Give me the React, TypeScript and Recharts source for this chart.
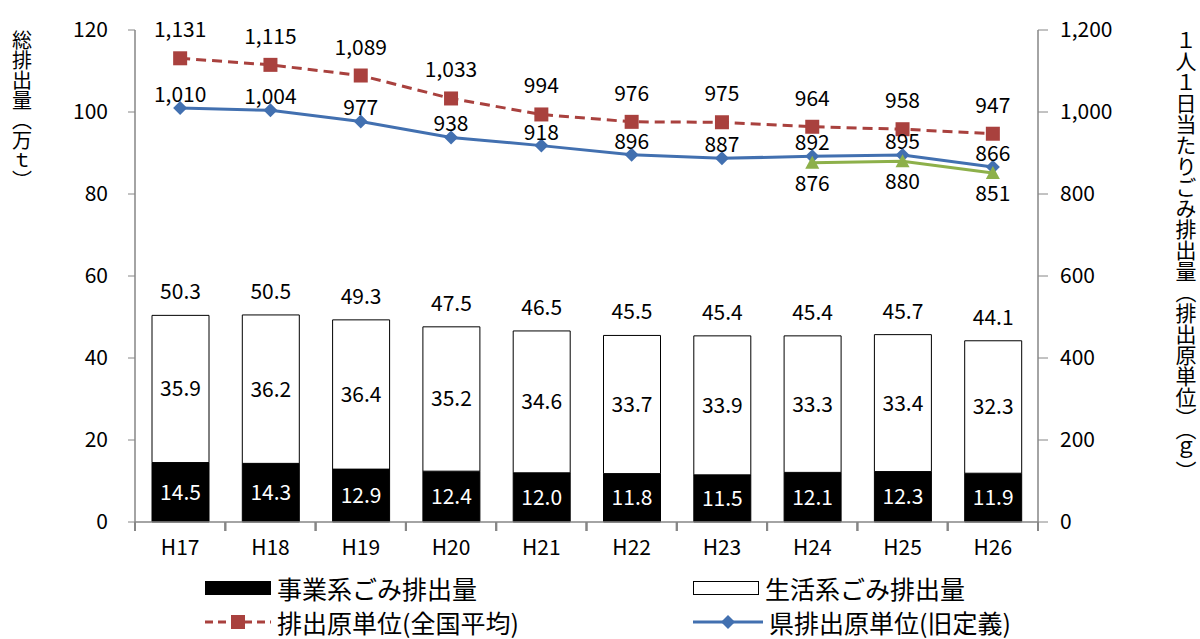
import React from 'react';
import {
  ComposedChart, Bar, Line, XAxis, YAxis, LabelList, Legend,
} from 'recharts';

const categories = ['H17', 'H18', 'H19', 'H20', 'H21', 'H22', 'H23', 'H24', 'H25', 'H26'];
const businessWaste = [14.5, 14.3, 12.9, 12.4, 12.0, 11.8, 11.5, 12.1, 12.3, 11.9];
const householdWaste = [35.9, 36.2, 36.4, 35.2, 34.6, 33.7, 33.9, 33.3, 33.4, 32.3];
const totalWaste = [50.3, 50.5, 49.3, 47.5, 46.5, 45.5, 45.4, 45.4, 45.7, 44.1];
const nationalUnit = [1131, 1115, 1089, 1033, 994, 976, 975, 964, 958, 947];
const prefUnitOld = [1010, 1004, 977, 938, 918, 896, 887, 892, 895, 866];
const prefUnitNew = [null, null, null, null, null, null, null, 876, 880, 851];
const leftTicks = [0, 20, 40, 60, 80, 100, 120];
const rightTicks = [0, 200, 400, 600, 800, 1000, 1200];

const data = categories.map((name, i) => ({
  name,
  business: businessWaste[i],
  household: householdWaste[i],
  total: totalWaste[i],
  national: nationalUnit[i],
  prefOld: prefUnitOld[i],
  prefNew: prefUnitNew[i],
}));

const FONT = "'Noto Sans CJK JP', 'Noto Sans', sans-serif";
const AXIS = '#868686';
const RED = '#A9413E';
const BLUE = '#4270B0';
const GREEN = '#8DB04A';

const W = 1200;
const H = 639;
const LEFT_W = 135;
const RIGHT_W = 162;
const TICK_GAP = 14;
const HALF_BAND = (W - LEFT_W - RIGHT_W) / categories.length / 2;

const fmt1 = (v: any) => (v == null ? '' : Number(v).toFixed(1));
const fmtInt = (v: any) => (v == null ? '' : Number(v).toLocaleString('en-US'));

const Square = (p: any) => {
  if (p.cx == null || p.cy == null || p.value == null) return <g key={p.key} />;
  return <rect key={p.key} x={p.cx - 7} y={p.cy - 7} width={14} height={14} fill={RED} />;
};
const Diamond = (p: any) => {
  if (p.cx == null || p.cy == null || p.value == null) return <g key={p.key} />;
  const { cx, cy } = p;
  return <path key={p.key} d={`M${cx},${cy - 7}L${cx + 7},${cy}L${cx},${cy + 7}L${cx - 7},${cy}Z`} fill={BLUE} />;
};
const Triangle = (p: any) => {
  if (p.cx == null || p.cy == null || p.value == null) return <g key={p.key} />;
  const { cx, cy } = p;
  return <path key={p.key} d={`M${cx},${cy - 7}L${cx + 7},${cy + 6}L${cx - 7},${cy + 6}Z`} fill={GREEN} />;
};

// category ticks sit between bars, labels centred under them
const CategoryTick = (p: any) => {
  const x = Number(p.x);
  const y = Number(p.y);
  const axisY = y - TICK_GAP;
  const left = x - HALF_BAND;
  const right = x + HALF_BAND;
  return (
    <g>
      <rect x={left - 1} y={axisY} width={2} height={9} fill={AXIS} />
      <rect x={right - 1} y={axisY} width={2} height={9} fill={AXIS} />
      <text x={x} y={y + 4} dy="0.71em" textAnchor="middle" fill="#000" fontSize={21} fontFamily={FONT}>
        {p.payload.value}
      </text>
    </g>
  );
};

const VerticalTitle = ({ x, y, text, size }: { x: number; y: number; text: string; size: number }) => (
  <text
    x={x}
    y={y}
    fill="#000"
    fontSize={size}
    fontFamily={FONT}
    style={{ writingMode: 'vertical-rl', textOrientation: 'upright' } as any}
  >
    {text}
  </text>
);

const legendItems = [
  { label: '事業系ごみ排出量', left: 205, top: 36, kind: 'black' },
  { label: '生活系ごみ排出量', left: 693, top: 36, kind: 'white' },
  { label: '排出原単位(全国平均)', left: 205, top: 70, kind: 'red' },
  { label: '県排出原単位(旧定義)', left: 693, top: 70, kind: 'blue' },
];

function LegendIcon({ kind }: { kind: string }) {
  if (kind === 'black') return <svg width={66} height={20}><rect x={0} y={3} width={66} height={14} fill="#000" /></svg>;
  if (kind === 'white') return <svg width={66} height={20}><rect x={0.5} y={3.5} width={65} height={13} fill="#fff" stroke="#000" /></svg>;
  if (kind === 'red') {
    return (
      <svg width={66} height={20}>
        <line x1={0} y1={10} x2={66} y2={10} stroke={RED} strokeWidth={3} strokeDasharray="8 5" />
        <rect x={26} y={3} width={14} height={14} fill={RED} />
      </svg>
    );
  }
  return (
    <svg width={70} height={20}>
      <line x1={0} y1={10} x2={70} y2={10} stroke={BLUE} strokeWidth={3} />
      <path d="M35,3L42,10L35,17L28,10Z" fill={BLUE} />
    </svg>
  );
}

const renderLegend = () => (
  <div style={{ position: 'relative', width: W, height: 80, fontFamily: FONT }}>
    {legendItems.map((it) => (
      <div
        key={it.label}
        style={{ position: 'absolute', left: it.left, top: it.top, display: 'flex', alignItems: 'center', height: 24, transform: 'translateY(-50%)' }}
      >
        <LegendIcon kind={it.kind} />
        <span style={{ marginLeft: 6, fontSize: 25, lineHeight: '24px', color: '#000', whiteSpace: 'nowrap' }}>{it.label}</span>
      </div>
    ))}
  </div>
);

export default function App() {
  const tickStyle = { fill: '#000', fontSize: 21, fontFamily: FONT };
  return (
    <div style={{ position: 'absolute', left: 0, top: 0, width: W, height: H, background: '#fff' }}>
      <ComposedChart width={W} height={H} data={data} margin={{ top: 30, right: 0, bottom: 7, left: 0 }} barSize={57}>
        <XAxis
          dataKey="name"
          height={30}
          axisLine={{ stroke: AXIS, strokeWidth: 1.5 }}
          tickLine={false}
          tickSize={0}
          tickMargin={TICK_GAP}
          tick={CategoryTick}
        />
        <YAxis
          yAxisId="left"
          width={LEFT_W}
          domain={[0, 120]}
          ticks={leftTicks}
          axisLine={{ stroke: AXIS, strokeWidth: 1.5 }}
          tickLine={{ stroke: AXIS }}
          tickSize={7}
          tickMargin={20}
          tick={tickStyle}
          label={{ content: () => <VerticalTitle x={22} y={30} text="総排出量（万ｔ）" size={20} /> }}
        />
        <YAxis
          yAxisId="right"
          orientation="right"
          width={RIGHT_W}
          domain={[0, 1200]}
          ticks={rightTicks}
          tickFormatter={fmtInt}
          axisLine={{ stroke: AXIS, strokeWidth: 1.5 }}
          tickLine={{ stroke: AXIS }}
          tickSize={10}
          tickMargin={12}
          tick={tickStyle}
          label={{ content: () => <VerticalTitle x={1186} y={30} text="１人１日当たりごみ排出量（排出原単位）（ｇ）" size={21} /> }}
        />
        <Legend verticalAlign="bottom" height={80} content={renderLegend} wrapperStyle={{ left: 0, width: W }} />
        <Bar yAxisId="left" dataKey="business" stackId="w" fill="#000" stroke="#000" isAnimationActive={false}>
          <LabelList dataKey="business" position="center" formatter={fmt1} fill="#fff" fontSize={21} fontFamily={FONT} />
        </Bar>
        <Bar yAxisId="left" dataKey="household" stackId="w" fill="#fff" stroke="#000" strokeWidth={1} isAnimationActive={false}>
          <LabelList dataKey="household" position="center" formatter={fmt1} fill="#000" fontSize={21} fontFamily={FONT} />
          <LabelList dataKey="total" position="top" offset={16} formatter={fmt1} fill="#000" fontSize={21} fontFamily={FONT} />
        </Bar>
        <Line
          yAxisId="right"
          dataKey="national"
          stroke={RED}
          strokeWidth={3}
          strokeDasharray="10 6"
          dot={Square}
          activeDot={false}
          isAnimationActive={false}
        >
          <LabelList dataKey="national" position="top" offset={21} formatter={fmtInt} fill="#000" fontSize={21} fontFamily={FONT} />
        </Line>
        <Line
          yAxisId="right"
          dataKey="prefOld"
          stroke={BLUE}
          strokeWidth={3}
          dot={Diamond}
          activeDot={false}
          isAnimationActive={false}
        >
          <LabelList dataKey="prefOld" position="top" offset={6} formatter={fmtInt} fill="#000" fontSize={21} fontFamily={FONT} />
        </Line>
        <Line
          yAxisId="right"
          dataKey="prefNew"
          stroke={GREEN}
          strokeWidth={3}
          dot={Triangle}
          activeDot={false}
          connectNulls={false}
          isAnimationActive={false}
        >
          <LabelList dataKey="prefNew" position="bottom" offset={13} formatter={fmtInt} fill="#000" fontSize={21} fontFamily={FONT} />
        </Line>
      </ComposedChart>
    </div>
  );
}
